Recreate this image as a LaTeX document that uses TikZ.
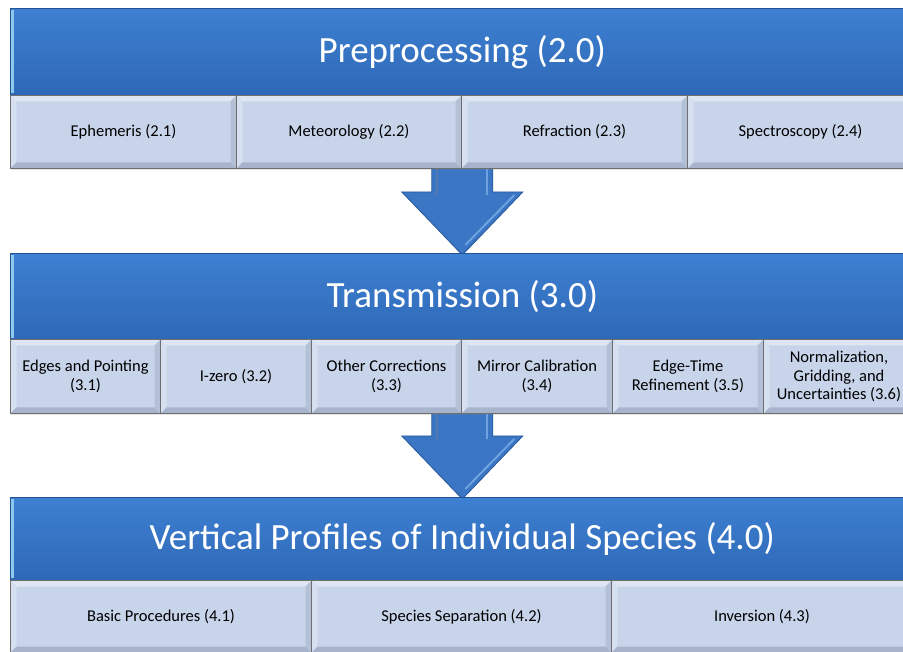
\documentclass[tikz,border=0pt]{standalone}
\usepackage{fontspec}
\setmainfont{Carlito}
\usetikzlibrary{calc,shadows}
\pgfdeclarelayer{bg}
\pgfsetlayers{bg,main}
\definecolor{hdrtop}{RGB}{62,128,210}
\definecolor{hdrmid}{RGB}{58,123,206}
\definecolor{hdrbot}{RGB}{46,104,182}
\definecolor{hdredge}{RGB}{140,200,240}
\definecolor{subfill}{RGB}{199,212,234}
\definecolor{bevlight}{RGB}{222,230,243}
\definecolor{bevleft}{RGB}{214,224,240}
\definecolor{bevdark}{RGB}{168,180,203}
\definecolor{bevright}{RGB}{180,192,213}
\definecolor{boxborder}{RGB}{110,110,110}
\definecolor{arrfill}{RGB}{58,118,196}
\definecolor{arredge}{RGB}{40,88,156}
\definecolor{arrhi}{RGB}{110,162,226}
\newcommand\subfont{\fontsize{16.5}{18.5}\selectfont}
\newcommand\hdrfont{\fontsize{37}{40}\selectfont}
\tikzset{
  hdr/.style={anchor=north west, draw=hdrbot!80!black, line width=0.6pt,
    top color=hdrtop, middle color=hdrmid, bottom color=hdrbot, text=white, font=\hdrfont,
    minimum width=904, minimum height=87, inner sep=0pt,
    path picture={
      \fill[hdredge] ([shift={(0.5pt,-2pt)}]path picture bounding box.north west)
        rectangle ([shift={(3.5pt,2pt)}]path picture bounding box.south west);
    }},
  subbox/.style={anchor=north west, draw=boxborder, line width=1pt, fill=subfill,
    align=center, font=\subfont, inner sep=2pt, minimum height=73,
    drop shadow={opacity=0.2, shadow xshift=0pt, shadow yshift=-2pt},
    path picture={
      \fill[bevlight] (path picture bounding box.north west) -- (path picture bounding box.north east)
        -- ([shift={(-6pt,-6pt)}]path picture bounding box.north east)
        -- ([shift={(6pt,-6pt)}]path picture bounding box.north west) -- cycle;
      \fill[bevleft] (path picture bounding box.north west) -- (path picture bounding box.south west)
        -- ([shift={(6pt,6pt)}]path picture bounding box.south west)
        -- ([shift={(6pt,-6pt)}]path picture bounding box.north west) -- cycle;
      \fill[bevdark] (path picture bounding box.south west) -- (path picture bounding box.south east)
        -- ([shift={(-6pt,6pt)}]path picture bounding box.south east)
        -- ([shift={(6pt,6pt)}]path picture bounding box.south west) -- cycle;
      \fill[bevright] (path picture bounding box.north east) -- (path picture bounding box.south east)
        -- ([shift={(-6pt,6pt)}]path picture bounding box.south east)
        -- ([shift={(-6pt,-6pt)}]path picture bounding box.north east) -- cycle;
    }},
  bigarrow/.style={fill=arrfill, draw=arredge, line width=0.8pt, line join=miter},
  arrhilite/.style={draw=arrhi, line width=2pt}
}
\begin{document}
\begin{tikzpicture}[x=1pt,y=-1pt]
\path[use as bounding box, clip] (0,0) rectangle (903,652);
% headers
\node[hdr] (H1) at (10,8) {Preprocessing (2.0)};
\node[hdr] (H2) at (10,253) {Transmission (3.0)};
\node[hdr, minimum height=83] (H3) at (10,497) {Vertical Profiles of Individual Species (4.0)};
% row 1
\node[subbox, minimum width=226] (S21) at (10,95) {Ephemeris (2.1)};
\node[subbox, minimum width=225] (S22) at (236,95) {Meteorology (2.2)};
\node[subbox, minimum width=226] (S23) at (461,95) {Refraction (2.3)};
\node[subbox, minimum width=226] (S24) at (687,95) {Spectroscopy (2.4)};
% row 2
\node[subbox, minimum width=150, minimum height=74] (S31) at (10,339) {Edges and Pointing\\(3.1)};
\node[subbox, minimum width=151, minimum height=74] (S32) at (160,339) {I-zero (3.2)};
\node[subbox, minimum width=150, minimum height=74] (S33) at (311,339) {Other Corrections\\(3.3)};
\node[subbox, minimum width=151, minimum height=74] (S34) at (461,339) {Mirror Calibration\\(3.4)};
\node[subbox, minimum width=151, minimum height=74] (S35) at (612,339) {Edge-Time\\Refinement (3.5)};
\node[subbox, minimum width=151, minimum height=74] (S36) at (763,339) {Normalization,\\Gridding, and\\Uncertainties (3.6)};
% row 3
\node[subbox, minimum width=301, minimum height=72] (S41) at (10,580) {Basic Procedures (4.1)};
\node[subbox, minimum width=300, minimum height=72] (S42) at (311,580) {Species Separation (4.2)};
\node[subbox, minimum width=301, minimum height=72] (S43) at (611,580) {Inversion (4.3)};
% arrows
\coordinate (A1s) at (H1.center |- S21.south);
\coordinate (A1t) at (H2.north);
\coordinate (A2s) at (H2.center |- S31.south);
\coordinate (A2t) at (H3.north);
\begin{pgfonlayer}{bg}
\foreach \s/\t in {A1s/A1t, A2s/A2t}{
  \draw[bigarrow] ($(\s)+(-30.5,-6)$) -- ($(\s)+(30.5,-6)$) -- ($(\t)+(30.5,-61)$)
    -- ($(\t)+(60.5,-61)$) -- ($(\t)+(0,2)$) -- ($(\t)+(-60.5,-61)$)
    -- ($(\t)+(-30.5,-61)$) -- cycle;
  \draw[arrhilite] ($(\s)+(25,0)$) -- ($(\t)+(25,-58)$);
  \draw[arrhilite] ($(\t)+(52,-58)$) -- ($(\t)+(3,-8)$);
  \draw[arrhilite, draw=arredge!80] ($(\s)+(-25,0)$) -- ($(\t)+(-25,-58)$);
}
\end{pgfonlayer}
\end{tikzpicture}
\end{document}
